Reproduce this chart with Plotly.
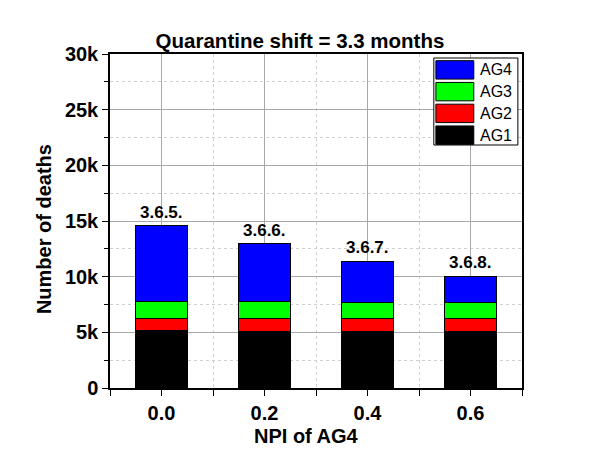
import plotly.graph_objects as go

# ---- data ----
npi = [0.0, 0.2, 0.4, 0.6]
series_names = ["AG1", "AG2", "AG3", "AG4"]
ag1 = [5190, 5100, 5100, 5100]
ag2 = [1080, 1170, 1170, 1100]
ag3 = [1490, 1490, 1430, 1470]
ag4 = [6810, 5190, 3690, 2370]
bar_labels = ["3.6.5.", "3.6.6.", "3.6.7.", "3.6.8."]
colors = ["#000000", "#FF0000", "#00FF00", "#0000FF"]

FONT = "Liberation Sans, Arial, sans-serif"

fig = go.Figure()
values = [ag1, ag2, ag3, ag4]
for name, vals, col in zip(series_names, values, colors):
    fig.add_trace(go.Bar(
        x=npi, y=vals, name=name, width=0.1,
        marker=dict(color=col, line=dict(color="#000000", width=1)),
        showlegend=False,
    ))

totals = [sum(v) for v in zip(*values)]
for xv, tv, lab in zip(npi, totals, bar_labels):
    fig.add_annotation(x=xv, y=tv, text=lab, showarrow=False, yanchor="bottom",
                       yshift=2, font=dict(family=FONT, size=17, color="#000", weight="bold"))

# ---- custom legend (top right, AG4 first) ----
lx0, lx1 = 0.786, 0.990
ly0, ly1 = 0.7275, 0.988
fig.add_shape(type="rect", xref="paper", yref="paper", x0=lx0, x1=lx1, y0=ly0, y1=ly1,
              line=dict(color="#000", width=1), fillcolor="#ffffff", layer="above")
row_h = (ly1 - ly0) / 4
for i, (name, col) in enumerate(zip(series_names[::-1], colors[::-1])):
    top = ly1 - 0.008 - i * row_h
    fig.add_shape(type="rect", xref="paper", yref="paper",
                  x0=0.791, x1=0.883, y0=top - row_h + 0.010, y1=top,
                  line=dict(color="#000", width=1), fillcolor=col, layer="above")
    fig.add_annotation(xref="paper", yref="paper", x=0.893, y=top - row_h / 2 + 0.005,
                       text=name, showarrow=False, xanchor="left", yanchor="middle",
                       font=dict(family=FONT, size=16, color="#000"))

# ---- axis titles as annotations ----
fig.add_annotation(xref="paper", yref="paper", x=0.478, y=-0.1437, text="NPI of AG4",
                   showarrow=False, xanchor="center", yanchor="middle",
                   font=dict(family=FONT, size=20, color="#000", weight="bold"))
fig.add_annotation(xref="paper", yref="paper", x=-0.160, y=0.476, text="Number of deaths",
                   showarrow=False, textangle=-90, xanchor="center", yanchor="middle",
                   font=dict(family=FONT, size=20, color="#000", weight="bold"))

W, H = 601, 459
fig.update_layout(
    width=W, height=H,
    margin=dict(l=102, r=87, t=46, b=79),
    barmode="stack",
    plot_bgcolor="#ffffff", paper_bgcolor="#ffffff",
    title=dict(text="Quarantine shift = 3.3 months", x=292 / W, xref="container",
               xanchor="center", y=1 - 33 / H, yanchor="middle",
               font=dict(family=FONT, size=20.5, color="#000", weight="bold")),
    xaxis=dict(range=[-0.1, 0.7], tick0=0, dtick=0.2, tickformat=".1f",
               ticks="outside", ticklen=6, tickwidth=1, tickcolor="#000",
               showline=True, linecolor="#000", linewidth=1.5, mirror=True,
               showgrid=True, gridcolor="#a8a8a8", gridwidth=1, zeroline=False,
               tickfont=dict(family=FONT, size=20, color="#000", weight="bold"),
               minor=dict(dtick=0.1, ticks="outside", ticklen=6, tickcolor="#000",
                          showgrid=True, gridcolor="#d0d0d0", griddash="dot")),
    yaxis=dict(range=[0, 30000], tick0=0, dtick=5000, tickformat="~s",
               ticks="outside", ticklen=6, tickwidth=1, tickcolor="#000",
               showline=True, linecolor="#000", linewidth=1.5, mirror=True,
               showgrid=True, gridcolor="#a8a8a8", gridwidth=1, zeroline=False,
               tickfont=dict(family=FONT, size=20, color="#000", weight="bold"),
               minor=dict(dtick=2500, ticks="outside", ticklen=4, tickcolor="#000",
                          showgrid=True, gridcolor="#d0d0d0", griddash="dot")),
)

fig.write_html("out.html")
